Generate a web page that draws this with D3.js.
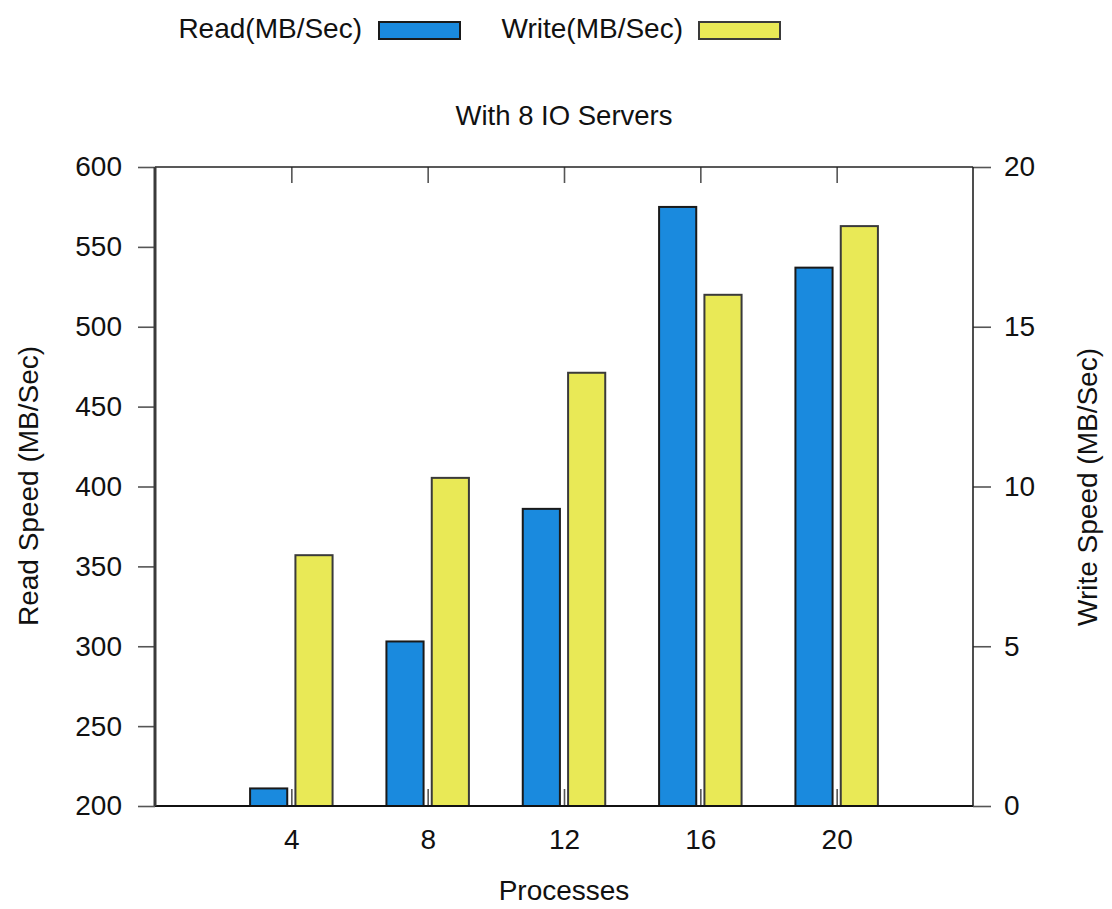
<!DOCTYPE html>
<html>
<head>
<meta charset="utf-8">
<script src="https://cdn.jsdelivr.net/npm/d3@7/dist/d3.min.js"></script>
<style>
  html, body { margin: 0; padding: 0; background: #fff; }
  svg text { font-family: "Liberation Sans", Arial, sans-serif; fill: #111; }
</style>
</head>
<body>
<svg id="chart" width="1112" height="909"></svg>
<script>
// Process counts on the x axis
const processes = [4, 8, 12, 16, 20];
// Read throughput, MB/s (left axis)
const readSpeed = [211, 303, 386, 575, 537];
// Write throughput, MB/s (right axis)
const writeSpeed = [7.85, 10.27, 13.56, 16.0, 18.15];

const leftTicks = [200, 250, 300, 350, 400, 450, 500, 550, 600];
const rightTicks = [0, 5, 10, 15, 20];

const seriesNames = ["Read(MB/Sec)", "Write(MB/Sec)"];
const colors = { read: "#1a8ade", write: "#e9e956" };

const svg = d3.select("#chart");
const m = { left: 155, right: 973, top: 167, bottom: 806 };

const x = d3.scaleLinear().domain([0, 24]).range([m.left, m.right]);
const yL = d3.scaleLinear().domain([200, 600]).range([m.bottom, m.top]);
const yR = d3.scaleLinear().domain([0, 20]).range([m.bottom, m.top]);

const barW = x(1.09) - x(0);   // bar width in px
const gap = x(0.12) - x(0);    // space between bar and category centre

// Bars
const g = svg.append("g");
g.selectAll("rect.read").data(processes).join("rect")
  .attr("class", "read")
  .attr("x", (d) => x(d) - gap - barW)
  .attr("y", (d, i) => yL(readSpeed[i]))
  .attr("width", barW)
  .attr("height", (d, i) => yL(200) - yL(readSpeed[i]))
  .attr("fill", colors.read)
  .attr("stroke", "#1a1a1a")
  .attr("stroke-width", 2);

g.selectAll("rect.write").data(processes).join("rect")
  .attr("class", "write")
  .attr("x", (d) => x(d) + gap)
  .attr("y", (d, i) => yR(writeSpeed[i]))
  .attr("width", barW)
  .attr("height", (d, i) => yR(0) - yR(writeSpeed[i]))
  .attr("fill", colors.write)
  .attr("stroke", "#3a3a3a")
  .attr("stroke-width", 2);

// Axes
const fontSize = 28;
function styleAxis(sel) {
  sel.selectAll("text").attr("font-size", fontSize).attr("fill", "#111")
    .attr("font-family", "Liberation Sans, Arial, sans-serif");
  sel.selectAll(".tick line").attr("stroke", "#555").attr("stroke-width", 1.6);
  sel.select(".domain").remove();
}

svg.append("g")
  .attr("transform", `translate(${m.left},0)`)
  .call(d3.axisLeft(yL).tickValues(leftTicks).tickSize(17).tickPadding(16))
  .call(styleAxis);

svg.append("g")
  .attr("transform", `translate(${m.right},0)`)
  .call(d3.axisRight(yR).tickValues(rightTicks).tickSize(18).tickPadding(13))
  .call(styleAxis);

svg.append("g")
  .attr("transform", `translate(0,${m.bottom})`)
  .call(d3.axisBottom(x).tickValues(processes).tickSize(-17).tickPadding(23))
  .call(styleAxis);

svg.append("g")
  .attr("transform", `translate(0,${m.top})`)
  .call(d3.axisTop(x).tickValues(processes).tickSize(-16).tickFormat(""))
  .call(styleAxis);

// Frame
svg.append("line").attr("x1", m.left).attr("x2", m.right).attr("y1", m.top).attr("y2", m.top)
  .attr("stroke", "#222").attr("stroke-width", 1.6);
svg.append("line").attr("x1", m.left).attr("x2", m.right).attr("y1", m.bottom).attr("y2", m.bottom)
  .attr("stroke", "#111").attr("stroke-width", 2);
svg.append("line").attr("x1", m.left).attr("x2", m.left).attr("y1", m.top).attr("y2", m.bottom)
  .attr("stroke", "#3a3a3a").attr("stroke-width", 3);
svg.append("line").attr("x1", m.right).attr("x2", m.right).attr("y1", m.top).attr("y2", m.bottom)
  .attr("stroke", "#222").attr("stroke-width", 1.6);

// Title
svg.append("text").attr("x", (m.left + m.right) / 2).attr("y", 125)
  .attr("text-anchor", "middle").attr("font-size", 27.5).text("With 8 IO Servers");

// Axis titles
svg.append("text").attr("x", (m.left + m.right) / 2).attr("y", 900)
  .attr("text-anchor", "middle").attr("font-size", fontSize).text("Processes");

svg.append("text").attr("transform", "translate(38,486) rotate(-90)")
  .attr("text-anchor", "middle").attr("font-size", fontSize).text("Read Speed (MB/Sec)");

svg.append("text").attr("transform", "translate(1097,487) rotate(-90)")
  .attr("text-anchor", "middle").attr("font-size", fontSize).text("Write Speed (MB/Sec)");

// Legend
const legend = [
  { name: seriesNames[0], color: colors.read, stroke: "#1a1a1a", textEnd: 362, boxX: 379 },
  { name: seriesNames[1], color: colors.write, stroke: "#3a3a3a", textEnd: 683, boxX: 699 }
];
const lg = svg.append("g").selectAll("g").data(legend).join("g");
lg.append("text").attr("x", (d) => d.textEnd).attr("y", 38)
  .attr("text-anchor", "end").attr("font-size", fontSize).text((d) => d.name);
lg.append("rect").attr("x", (d) => d.boxX).attr("y", 22).attr("width", 81).attr("height", 17)
  .attr("fill", (d) => d.color).attr("stroke", (d) => d.stroke).attr("stroke-width", 2);
</script>
</body>
</html>
